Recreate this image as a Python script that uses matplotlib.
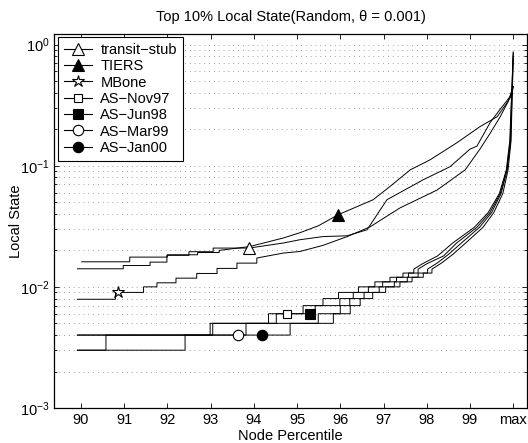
import numpy as np
import matplotlib
matplotlib.use("Agg")
import matplotlib.pyplot as plt
from matplotlib.lines import Line2D
from matplotlib.ticker import LogLocator, NullFormatter

plt.rcParams['font.family'] = ['Liberation Sans', 'DejaVu Sans']
plt.rcParams['font.size'] = 10.5

# x ticks (percentile, last one is the maximum)
tick_pos = [90, 91, 92, 93, 94, 95, 96, 97, 98, 99, 100]
tick_lab = ['90', '91', '92', '93', '94', '95', '96', '97', '98', '99', 'max']

# each curve: staircase part (x where a level starts, level) + smooth tail
ts_step_x = [89.92, 90.98, 91.6, 91.99, 92.5, 93.06]
ts_step_y = [0.0141, 0.0150, 0.0160, 0.0182, 0.0195, 0.0209]
ts_tail_x = [93.89, 94.68, 95.07, 95.6, 96.16, 96.62, 97.08, 97.92, 98.54, 99.0, 99.16, 99.47, 99.7, 99.93, 100.0]
ts_tail_y = [0.0209, 0.0230, 0.0245, 0.0260, 0.0264, 0.0296, 0.0524, 0.0766, 0.0982, 0.137, 0.145, 0.228, 0.293, 0.373, 0.45]

tiers_step_x = [90.02, 91.13, 92.0, 92.7, 93.2]
tiers_step_y = [0.0161, 0.0176, 0.0184, 0.0192, 0.0200]
tiers_tail_x = [93.9, 94.68, 95.07, 95.5, 95.95, 96.22, 96.76, 97.15, 97.62, 98.08, 98.7, 99.23, 99.63, 99.88, 99.97, 100.0]
tiers_tail_y = [0.0215, 0.0253, 0.0280, 0.0320, 0.0394, 0.0433, 0.0524, 0.0674, 0.0925, 0.112, 0.155, 0.21, 0.254, 0.34, 0.386, 0.45]

mbone_step_x = [89.92, 90.8, 91.45, 91.76, 92.2, 92.68, 93.15, 93.61, 94.07]
mbone_step_y = [0.0079, 0.0090, 0.0100, 0.0108, 0.0118, 0.0129, 0.0142, 0.0157, 0.0173]
mbone_tail_x = [94.68, 95.07, 95.6, 96.16, 96.69, 97.38, 98.24, 98.89, 99.23, 99.47, 99.7, 99.88, 100.0]
mbone_tail_y = [0.0190, 0.0196, 0.0220, 0.0260, 0.0313, 0.0448, 0.063, 0.0925, 0.137, 0.186, 0.254, 0.337, 0.45]

nov97_step_x = [89.92, 92.99, 94.34, 95.14, 95.6, 95.96, 96.42, 96.8, 97.15, 97.45, 97.7]
nov97_step_y = [0.004, 0.005, 0.006, 0.007, 0.008, 0.009, 0.010, 0.011, 0.012, 0.013, 0.014]
nov97_tail_x = [97.9, 98.25, 98.6, 99.1, 99.42, 99.68, 99.84, 99.92, 100.0]
nov97_tail_y = [0.0155, 0.018, 0.023, 0.031, 0.041, 0.059, 0.092, 0.16, 0.85]

jun98_step_x = [89.92, 90.58, 93.05, 94.52, 95.42, 95.99, 96.3, 96.65, 96.98, 97.3, 97.58, 97.8]
jun98_step_y = [0.003, 0.004, 0.005, 0.006, 0.007, 0.008, 0.009, 0.010, 0.011, 0.012, 0.013, 0.014]
jun98_tail_x = [98.0, 98.39, 98.69, 99.16, 99.46, 99.7, 99.85, 99.93, 100.0]
jun98_tail_y = [0.0155, 0.018, 0.023, 0.031, 0.041, 0.059, 0.092, 0.16, 0.87]

mar99_step_x = [89.92, 93.82, 95.49, 96.0, 96.22, 96.55, 96.9, 97.25, 97.55, 97.8, 98.02]
mar99_step_y = [0.004, 0.005, 0.006, 0.007, 0.008, 0.009, 0.010, 0.011, 0.012, 0.013, 0.014]
mar99_tail_x = [98.25, 98.5, 98.8, 99.22, 99.5, 99.72, 99.86, 99.94, 100.0]
mar99_tail_y = [0.0158, 0.0185, 0.023, 0.031, 0.041, 0.059, 0.092, 0.16, 0.75]

jan00_step_x = [89.92, 92.41, 94.84, 95.84, 96.23, 96.46, 96.75, 97.05, 97.38, 97.66, 97.92, 98.12]
jan00_step_y = [0.003, 0.004, 0.005, 0.006, 0.007, 0.008, 0.009, 0.010, 0.011, 0.012, 0.013, 0.014]
jan00_tail_x = [98.35, 98.6, 98.9, 99.3, 99.55, 99.76, 99.88, 99.95, 100.0]
jan00_tail_y = [0.0158, 0.0185, 0.023, 0.031, 0.041, 0.059, 0.092, 0.16, 0.8]

# the single marker drawn on each curve
mark_x = [93.89, 95.95, 90.85, 94.76, 95.29, 93.64, 94.20]
mark_y = [0.0210, 0.0394, 0.0091, 0.0060, 0.0060, 0.0040, 0.0040]

names = ['transit\u2212stub', 'TIERS', 'MBone', 'AS\u2212Nov97', 'AS\u2212Jun98', 'AS\u2212Mar99', 'AS\u2212Jan00']
curves = [
    (ts_step_x, ts_step_y, ts_tail_x, ts_tail_y),
    (tiers_step_x, tiers_step_y, tiers_tail_x, tiers_tail_y),
    (mbone_step_x, mbone_step_y, mbone_tail_x, mbone_tail_y),
    (nov97_step_x, nov97_step_y, nov97_tail_x, nov97_tail_y),
    (jun98_step_x, jun98_step_y, jun98_tail_x, jun98_tail_y),
    (mar99_step_x, mar99_step_y, mar99_tail_x, mar99_tail_y),
    (jan00_step_x, jan00_step_y, jan00_tail_x, jan00_tail_y),
]
markers = ['^', '^', '*', 's', 's', 'o', 'o']
filled = [False, True, False, False, True, False, True]
msizes = [8.5, 8.5, 9, 6, 6.5, 7.5, 7.5]


def stair(xs, ys):
    # turn level start points into step vertices
    px = np.repeat(np.asarray(xs, float), 2)[1:]
    py = np.repeat(np.asarray(ys, float), 2)[:-1]
    return px, py


fig = plt.figure(figsize=(5.28, 4.43), dpi=100)
ax = fig.add_axes([0.1032, 0.079, 0.895, 0.845])

for (sx, sy, tx, ty) in curves:
    px, py = stair(sx, sy)
    px = np.concatenate([px, tx])
    py = np.concatenate([py, ty])
    ax.plot(px, py, color='k', lw=0.7, zorder=3)

for i in range(len(names)):
    fc = 'k' if filled[i] else 'white'
    ax.plot(mark_x[i], mark_y[i], marker=markers[i], ms=msizes[i], mfc=fc,
            mec='k', mew=0.8, ls='none', zorder=4)

ax.set_yscale('log')
ax.set_xlim(89.39, 100.32)
ax.set_ylim(1e-3, 1.23)
ax.set_xticks(tick_pos)
ax.set_xticklabels(tick_lab)
ax.yaxis.set_major_locator(LogLocator(base=10, numticks=10))
ax.yaxis.set_minor_locator(LogLocator(base=10, subs=np.arange(2, 10), numticks=20))
ax.yaxis.set_minor_formatter(NullFormatter())
ax.tick_params(which='both', direction='in', top=True, right=True, width=0.6)
ax.tick_params(which='major', length=3.5)
ax.tick_params(which='minor', length=2)
ax.grid(True, which='both', axis='y', color='0.5', lw=0.6, ls=(0, (1, 4.8)))
for s in ax.spines.values():
    s.set_linewidth(0.9)

ax.set_title('Top 10% Local State(Random, \u03b8 = 0.001)', fontsize=10.5, pad=9)
ax.set_xlabel('Node Percentile', labelpad=1.5)
ax.set_ylabel('Local State', labelpad=-2)

handles = []
for i in range(len(names)):
    fc = 'k' if filled[i] else 'white'
    handles.append(Line2D([], [], color='k', lw=0.8, marker=markers[i], ms=msizes[i],
                          mfc=fc, mec='k', mew=0.8))
leg = ax.legend(handles, names, loc='upper left', bbox_to_anchor=(0.0074, 0.991),
                borderaxespad=0, fancybox=False, framealpha=1, edgecolor='k',
                handlelength=1.9, labelspacing=0.16, handletextpad=0.6, borderpad=0.4)
leg.get_frame().set_linewidth(0.8)
leg.set_zorder(5)

fig.savefig('out.png', dpi=100)
